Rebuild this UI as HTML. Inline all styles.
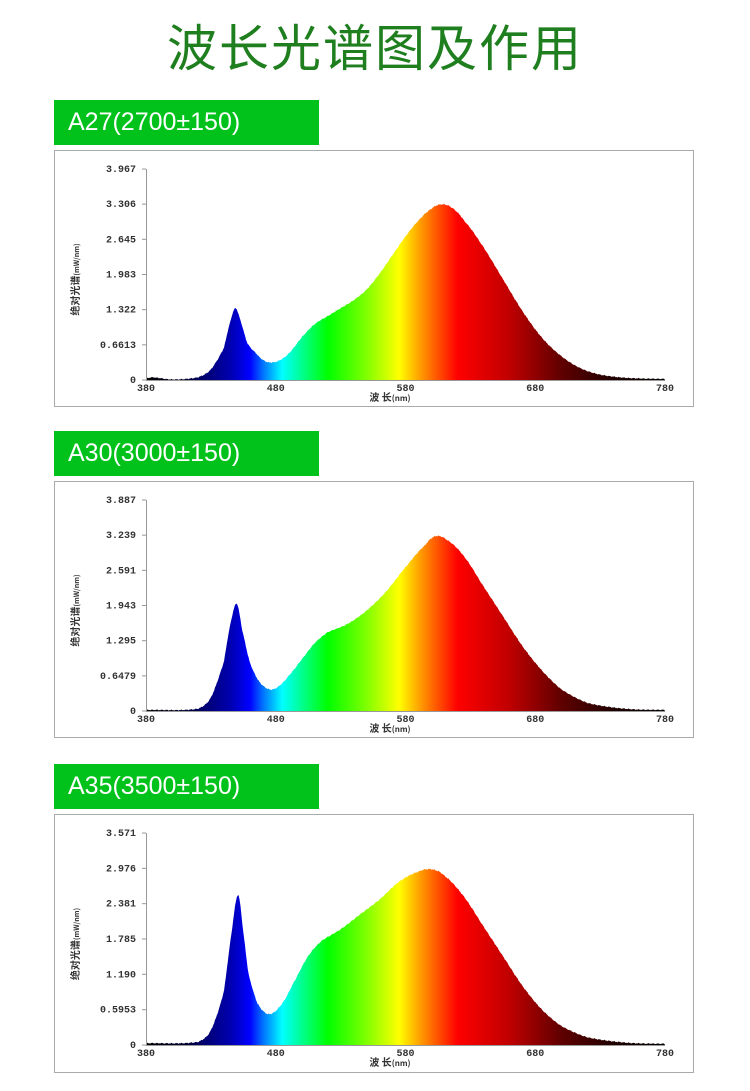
<!DOCTYPE html>
<html><head><meta charset="utf-8">
<style>
body{margin:0;width:750px;height:1091px;background:#fff;position:relative;overflow:hidden;font-family:"Liberation Sans","Noto Sans CJK SC",sans-serif}
.title{position:absolute;left:0;width:750px;top:10px;text-align:center;font-size:50px;color:#1f7f1f;font-family:"Noto Sans CJK SC",sans-serif;letter-spacing:2px;line-height:70px}
.lab{position:absolute;left:54px;width:265px;height:45px;background:#00c21a;color:#fff;font-size:25px;line-height:45px;padding-left:14px;box-sizing:border-box;font-family:"Liberation Sans","Noto Sans CJK SC",sans-serif}
svg{position:absolute;left:0;top:0}
</style></head><body>
<div class="title">波长光谱图及作用</div>
<div class="lab" style="top:100px">A27(2700±150)</div>
<div class="lab" style="top:431px">A30(3000±150)</div>
<div class="lab" style="top:764px">A35(3500±150)</div>
<svg id="s" width="750" height="1091" xmlns="http://www.w3.org/2000/svg"></svg>
<script>
const NS="http://www.w3.org/2000/svg";
const s=document.getElementById('s');
const stops=[[380,'#000000'],[410,'#000030'],[425,'#000070'],[445,'#0000b0'],[460,'#0000ff'],[470,'#0070ff'],[485,'#00ffff'],[500,'#00ff90'],[520,'#00ff00'],[550,'#80ff00'],[575,'#ffff00'],[595,'#ff8800'],[620,'#ff0000'],[660,'#c00000'],[700,'#600000'],[740,'#200000'],[780,'#000000']];
let html='<linearGradient id="sp" gradientUnits="userSpaceOnUse" x1="146" x2="665" y1="0" y2="0">'+stops.map(a=>`<stop offset="${(a[0]-380)/400}" stop-color="${a[1]}"/>`).join('')+'</linearGradient>';
const charts=[
{bt:150,bb:406,y0:380,yt:169,max:3.967,ticks:['0','0.6613','1.322','1.983','2.645','3.306','3.967'],
pts:[[380,0.03],[385,0.05],[400,0.01],[420,0.05],[430,0.2],[440,0.6],[445,1.1],[449,1.35],[453,1.1],[458,0.7],[465,0.5],[470,0.38],[475,0.33],[482,0.36],[490,0.5],[500,0.8],[510,1.05],[520,1.2],[530,1.35],[540,1.5],[550,1.7],[560,2.0],[570,2.35],[580,2.7],[590,3.0],[600,3.22],[607,3.3],[615,3.25],[625,3.0],[640,2.5],[655,1.9],[670,1.3],[685,0.8],[700,0.45],[715,0.22],[730,0.1],[750,0.04],[780,0.02]]},
{bt:481,bb:737,y0:711,yt:500,max:3.887,ticks:['0','0.6479','1.295','1.943','2.591','3.239','3.887'],
pts:[[380,0.02],[420,0.04],[430,0.25],[440,0.9],[445,1.6],[450,1.98],[454,1.5],[460,0.9],[467,0.55],[475,0.4],[482,0.45],[490,0.65],[500,0.95],[510,1.25],[520,1.45],[535,1.6],[550,1.85],[565,2.2],[580,2.65],[595,3.05],[603,3.22],[612,3.15],[625,2.85],[640,2.3],[655,1.75],[670,1.2],[685,0.75],[700,0.4],[720,0.15],[750,0.04],[780,0.02]]},
{bt:814,bb:1072,y0:1045,yt:833,max:3.571,ticks:['0','0.5953','1.190','1.785','2.381','2.976','3.571'],
pts:[[380,0.03],[420,0.05],[430,0.25],[440,0.9],[446,1.9],[451,2.53],[455,1.9],[459,1.2],[466,0.7],[475,0.52],[485,0.7],[495,1.1],[505,1.5],[515,1.75],[530,1.95],[545,2.2],[560,2.45],[575,2.75],[590,2.92],[600,2.96],[610,2.85],[625,2.5],[640,2.0],[655,1.5],[670,1.0],[685,0.6],[700,0.32],[720,0.13],[750,0.04],[780,0.02]]}
];
const X=n=>146+(n-380)*1.2975;
charts.forEach((c,i)=>{
 html+=`<rect x="54.5" y="${c.bt+.5}" width="639" height="${c.bb-c.bt}" fill="none" stroke="#aaa"/>`;
 const Y=v=>c.y0-v/c.max*(c.y0-c.yt);
 const P=c.pts;
 let d=`M${X(380)},${c.y0}`;
 for(let n=380;n<=780;n+=0.7){
  let k=0;while(k<P.length-2&&P[k+1][0]<n)k++;
  const a=P[k],b=P[k+1];let t=(n-a[0])/(b[0]-a[0]);t=Math.max(0,Math.min(1,t));
  const p0=P[Math.max(0,k-1)][1],p1=a[1],p2=b[1],p3=P[Math.min(P.length-1,k+2)][1];
  let v=0.5*((2*p1)+(-p0+p2)*t+(2*p0-5*p1+4*p2-p3)*t*t+(-p0+3*p1-3*p2+p3)*t*t*t);
  v+= (Math.sin(n*7.3)*0.5+Math.sin(n*13.1)*0.5)*0.012;
  d+=`L${X(n).toFixed(1)},${Y(Math.max(0,v)).toFixed(1)}`;
 }
 d+=`L${X(780)},${c.y0}Z`;
 html+=`<path d="${d}" fill="url(#sp)"/>`;
 html+=`<line x1="146.5" y1="${c.yt}" x2="146.5" y2="${c.y0}" stroke="#999"/><line x1="146" y1="${c.y0+.5}" x2="665" y2="${c.y0+.5}" stroke="#999"/>`;
 c.ticks.forEach((t,j)=>{const y=c.y0-j*(c.y0-c.yt)/6;
  html+=`<text x="136" y="${y+3}" text-anchor="end" font-family="Liberation Mono,monospace" font-size="10" font-weight="bold" fill="#333">${t}</text><line x1="142" x2="146" y1="${y}" y2="${y}" stroke="#999"/>`;});
 [380,480,580,680,780].forEach(n=>{html+=`<text x="${X(n)}" y="${c.y0+11}" text-anchor="middle" font-family="Liberation Mono,monospace" font-size="10" font-weight="bold" fill="#333">${n}</text>`;});
 html+=`<text x="390" y="${c.y0+21}" text-anchor="middle" font-family="Noto Sans CJK SC,sans-serif" font-size="10" font-weight="bold" fill="#333">波 长<tspan font-size="8">(nm)</tspan></text>`;
 const cy=(c.yt+c.y0)/2+5;
 html+=`<text transform="translate(79,${cy}) rotate(-90)" text-anchor="middle" font-family="Noto Sans CJK SC,sans-serif" font-size="10" font-weight="bold" fill="#333">绝对光谱<tspan font-size="7">(mW/nm)</tspan></text>`;
});
s.innerHTML=html;
</script>
</body></html>
